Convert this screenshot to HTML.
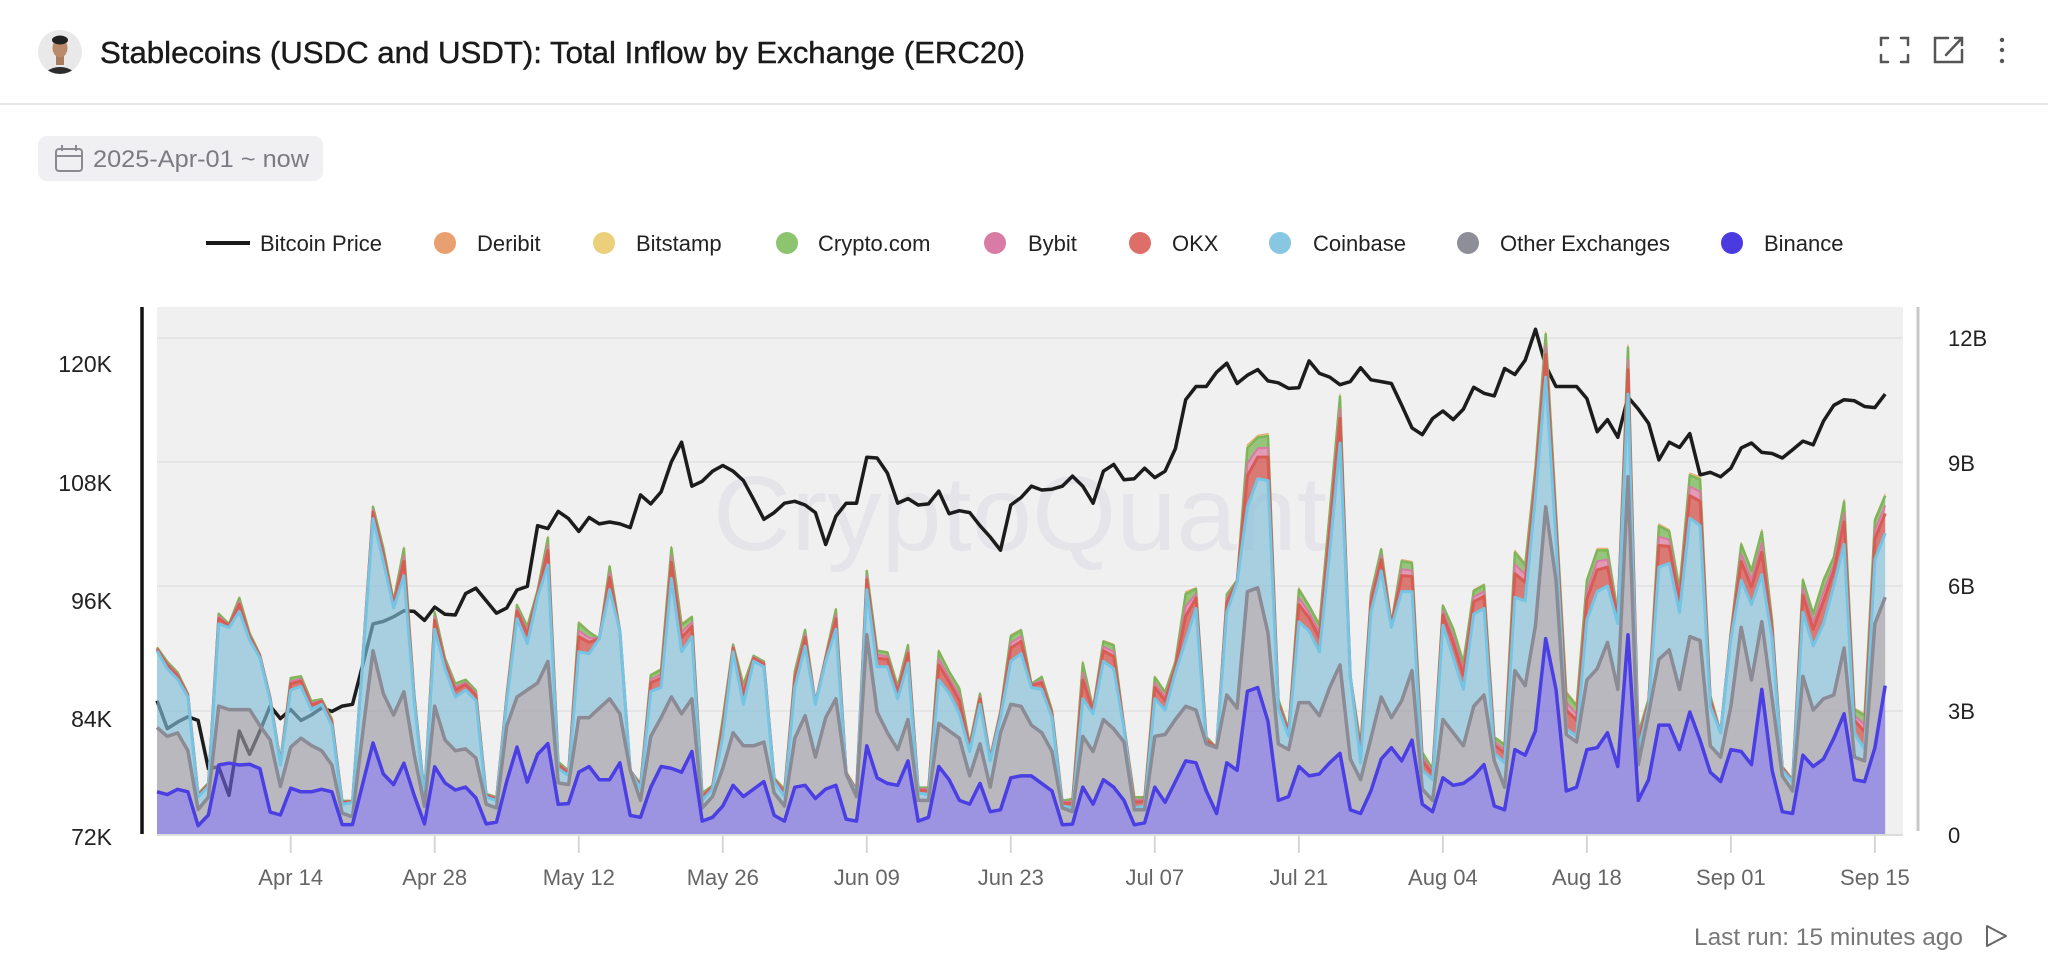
<!DOCTYPE html>
<html><head><meta charset="utf-8"><style>
html,body{margin:0;padding:0;background:#fff;width:2048px;height:972px;overflow:hidden}
svg{display:block}
text{font-family:"Liberation Sans",Arial,sans-serif}
</style></head><body>
<svg id="s" xmlns="http://www.w3.org/2000/svg" width="2048" height="972" viewBox="0 0 2048 972">
<rect width="2048" height="972" fill="#fff"/>
<defs><clipPath id="av"><circle cx="60" cy="52" r="22"/></clipPath></defs>
<g clip-path="url(#av)">
<rect x="36" y="28" width="48" height="48" fill="#e9e9e9"/>
<ellipse cx="60" cy="82" rx="19" ry="15" fill="#2c2c2e"/>
<rect x="56" y="55" width="8" height="10" fill="#a87c5e"/>
<ellipse cx="60" cy="48" rx="7.5" ry="9.5" fill="#b98b6b"/>
<ellipse cx="60" cy="40" rx="8" ry="4.5" fill="#222"/>
</g>
<text x="100" y="63" font-size="31" fill="#1a1a1a" stroke="#1a1a1a" stroke-width="0.45" textLength="925" lengthAdjust="spacingAndGlyphs">Stablecoins (USDC and USDT): Total Inflow by Exchange (ERC20)</text>
<g stroke="#555" stroke-width="2.5" fill="none" stroke-linecap="round">
<path d="M1881,45 V38 H1888 M1901,38 H1908 V45 M1908,55 V62 H1901 M1888,62 H1881 V55"/>
<path d="M1948,38 H1935 V62 H1962 V50 M1946,55 L1962,38 M1955,38 H1962 V45"/>
</g>
<g fill="#555"><circle cx="2002" cy="40" r="2.2"/><circle cx="2002" cy="50" r="2.2"/><circle cx="2002" cy="61" r="2.2"/></g>
<rect x="0" y="103" width="2048" height="2" fill="#e6e6e6"/>
<rect x="38" y="136" width="285" height="45" rx="9" fill="#f0f0f3"/>
<g stroke="#8a8a90" stroke-width="2" fill="none"><rect x="56" y="149" width="26" height="22" rx="3"/><path d="M56,156 H82 M62,145 V151 M76,145 V151"/></g>
<text x="93" y="167" font-size="24" fill="#7b7b82" textLength="216" lengthAdjust="spacingAndGlyphs">2025-Apr-01 ~ now</text>
<g font-size="22" fill="#222">
<line x1="206" y1="243" x2="250" y2="243" stroke="#1a1a1a" stroke-width="4"/>
<text x="260" y="251" textLength="122" lengthAdjust="spacingAndGlyphs">Bitcoin Price</text>
<circle cx="445" cy="243" r="11" fill="#e9a070"/><text x="477" y="251">Deribit</text>
<circle cx="604" cy="243" r="11" fill="#ebcf7a"/><text x="636" y="251">Bitstamp</text>
<circle cx="787" cy="243" r="11" fill="#8cc470"/><text x="818" y="251">Crypto.com</text>
<circle cx="995" cy="243" r="11" fill="#d87ca6"/><text x="1028" y="251">Bybit</text>
<circle cx="1140" cy="243" r="11" fill="#dd6e68"/><text x="1172" y="251">OKX</text>
<circle cx="1280" cy="243" r="11" fill="#87c7e2"/><text x="1313" y="251">Coinbase</text>
<circle cx="1468" cy="243" r="11" fill="#8e8e98"/><text x="1500" y="251">Other Exchanges</text>
<circle cx="1732" cy="243" r="11" fill="#4a3be0"/><text x="1764" y="251">Binance</text>
</g>
<rect x="157" y="307" width="1746" height="527" fill="#f0f0f0"/>
<g stroke="#e5e5e5" stroke-width="2"><line x1="157" y1="338" x2="1903" y2="338"/><line x1="157" y1="462" x2="1903" y2="462"/><line x1="157" y1="586" x2="1903" y2="586"/><line x1="157" y1="711" x2="1903" y2="711"/></g>
<text x="713" y="550" font-size="106" fill="#e5e5e9" textLength="614" lengthAdjust="spacingAndGlyphs">CryptoQuant</text>
<g id="chart"></g>
<line x1="157" y1="835" x2="1903" y2="835" stroke="#dcdcdc" stroke-width="2"/>
<line x1="142" y1="307" x2="142" y2="834" stroke="#111" stroke-width="3.5"/>
<line x1="1918" y1="307" x2="1918" y2="831" stroke="#c8c8c8" stroke-width="3"/>
<g font-size="23" fill="#222" text-anchor="end">
<text x="112" y="372">120K</text><text x="112" y="491">108K</text><text x="112" y="609">96K</text><text x="112" y="727">84K</text><text x="112" y="845">72K</text>
</g>
<g font-size="22" fill="#222">
<text x="1948" y="346">12B</text><text x="1948" y="471">9B</text><text x="1948" y="594">6B</text><text x="1948" y="719">3B</text><text x="1948" y="843">0</text>
</g>
<g id="xt" font-size="22" fill="#666" text-anchor="middle"></g>
<text x="1963" y="945" font-size="24" fill="#777" text-anchor="end" textLength="269" lengthAdjust="spacingAndGlyphs">Last run: 15 minutes ago</text>
<path d="M1987,926 L2006,936 L1987,946 Z" stroke="#666" stroke-width="2" fill="none" stroke-linejoin="round"/>
</svg>
<script>
(function(){
const A=a=>a.map(z=>290+z/2.8), B=a=>a.map(z=>300+z/2.658);
const btc=[...A([1150,1228,1210,1195,1205,1340,1335,1415,1235,1300,1235,1165,1200,1175,1205,1190,1170,1180,1165,1160,1050,935,928,915,898,900,925,888,908,910,850,835,870,905,890,840,830,660,668,620,640]),
...B([615,578,595,590,595,605,518,542,510,430,378,495,482,455,440,455,480,530,583,565,540,535,545,565,650,575,540,540,418,420,460,540,528,545,542,508,568,560,565,600,630,665,545,525]),
...B([495,505,503,495,468,495,540,455,437,478,475,447,472,455,395,265,230,230,192,168,222,200,185,215,220,235,233,162,195,205,225,217,180,212,217,222,280,340,358,315,295,318,290]),
...B([232,248,255,182,198,160,78,175,230,230,230,262,350,318,365,258,290,328,425,378,392,355,465,458,470,447,393,380,405,408,420,398,375,385,322,280,265,268,283,286,250])];
const bin=[...A([1405,1413,1398,1405,1500,1470,1330,1325,1330,1328,1340,1462,1470,1395,1405,1405,1398,1405,1497,1497,1383,1268,1355,1385,1325,1415,1495,1335,1380,1400,1392,1422,1495,1490,1375,1280,1378,1300,1270,1440,1438]),
...B([1255,1240,1275,1275,1230,1370,1375,1295,1240,1245,1255,1200,1385,1375,1345,1290,1320,1300,1280,1370,1385,1295,1290,1325,1300,1290,1380,1385,1185,1270,1285,1290,1225,1385,1375,1240,1275,1330,1340,1285,1360,1355,1270,1265]),
...B([1265,1285,1305,1395,1393,1295,1340,1275,1295,1330,1395,1390,1295,1335,1280,1225,1230,1305,1365,1230,1250,1040,1030,1120,1330,1320,1240,1265,1260,1230,1205,1355,1365,1305,1220,1190,1225,1170,1340,1360,1270,1290,1285]),
...B([1265,1235,1345,1355,1195,1210,1145,900,1035,1305,1295,1195,1190,1150,1240,890,1330,1275,1130,1130,1195,1095,1170,1255,1280,1195,1200,1235,1035,1250,1360,1365,1210,1240,1220,1165,1100,1275,1280,1190,1025])];
const oth=[...A([1225,1250,1240,1290,1455,1420,1165,1175,1175,1175,1220,1260,1390,1280,1255,1275,1290,1330,1465,1475,1240,1010,1130,1190,1125,1300,1445,1165,1260,1290,1285,1310,1440,1450,1220,1140,1120,1100,1040,1380,1385]),
...B([1110,1110,1085,1060,1100,1250,1330,1160,1110,1055,1100,1060,1350,1320,1245,1150,1185,1185,1175,1310,1345,1165,1105,1215,1110,1060,1260,1320,890,1095,1150,1195,1115,1330,1330,1125,1145,1165,1265,1180,1295,1150,1075,1080]),
...B([1130,1150,1200,1350,1360,1160,1200,1115,1140,1175,1355,1355,1160,1155,1115,1080,1090,1180,1190,1050,1085,775,765,885,1180,1195,1070,1070,1105,1030,970,1220,1275,1165,1055,1110,1065,985,1300,1330,1115,1150,1185]),
...B([1080,1050,1225,1295,985,1025,865,550,745,1155,1175,1010,980,910,1035,470,1235,1100,955,930,1035,895,905,1185,1215,1080,870,1010,855,1060,1265,1305,1000,1090,1060,1050,925,1215,1225,860,790])];
const cb=[...A([1010,1060,1090,1140,1420,1390,935,945,900,980,1030,1150,1330,1120,1110,1175,1160,1220,1440,1435,1040,640,760,890,800,1150,1425,950,1060,1140,1120,1150,1420,1430,1150,920,990,860,770,1340,1360]),
...B([935,940,900,770,880,1270,1300,1040,1030,740,935,895,1330,1300,1160,935,1075,960,975,1280,1320,1030,920,1075,960,875,1270,1310,770,975,975,1060,965,1310,1315,1010,1045,1100,1200,1075,1225,1110,960,940]),
...B([1030,1035,1110,1345,1350,1060,1100,960,980,1140,1350,1345,1060,1090,990,905,820,1180,1225,830,750,550,475,480,1085,1160,855,880,935,670,380,1000,1230,830,720,870,775,775,1250,1275,865,950,1035]),
...B([835,820,1205,1230,790,800,520,205,640,1140,1160,850,775,760,860,250,1200,1080,710,700,830,580,600,1080,1150,900,745,810,730,900,1250,1280,830,920,860,760,650,1150,1195,690,620])];
const tot=[...A([1000,1040,1070,1130,1410,1380,905,935,860,960,1020,1140,1320,1085,1080,1150,1145,1200,1430,1430,1030,605,720,870,720,1130,1415,900,1030,1100,1090,1120,1410,1420,1130,880,940,840,690,1320,1345]),
...B([855,880,915,705,880,1255,1285,995,980,655,860,840,1310,1290,1110,915,1020,945,960,1270,1300,985,875,1070,945,820,1255,1300,718,930,935,1025,915,1295,1295,930,985,1030,1180,1045,1215,1090,890,875]),
...B([1020,1000,1090,1330,1325,960,1085,905,915,1130,1320,1320,1000,1040,960,775,765,1160,1210,780,745,385,360,355,1060,1140,765,810,860,560,250,1010,1180,780,660,860,690,695,1200,1245,810,870,960]),
...B([770,755,1160,1180,665,700,440,85,560,1040,1075,740,660,660,830,120,1150,1060,595,610,765,460,470,1050,1150,880,645,715,610,850,1240,1275,740,830,740,680,530,1085,1100,580,515])];
const N=btc.length;
const base=new Array(N).fill(834);
for(let i=0;i<N;i++){oth[i]=Math.min(oth[i],bin[i]);cb[i]=Math.min(cb[i],oth[i]);tot[i]=Math.min(tot[i],cb[i]);}
const okx=[],byb=[],cro=[],bst=[];
for(let i=0;i<N;i++){const g=cb[i]-tot[i];okx[i]=cb[i]-0.5*g;byb[i]=cb[i]-0.7*g;cro[i]=cb[i]-0.95*g;bst[i]=cb[i]-0.98*g;}
const X=i=>(157+i*10.287).toFixed(1);
const line=a=>'M'+a.map((y,i)=>X(i)+','+y.toFixed(1)).join('L');
function band(lo,hi){let s=line(hi);for(let i=N-1;i>=0;i--)s+='L'+X(i)+','+lo[i].toFixed(1);return s+'Z';}
const ns='http://www.w3.org/2000/svg';const g=document.getElementById('chart');
function P(d,attrs){const p=document.createElementNS(ns,'path');p.setAttribute('d',d);for(const k in attrs)p.setAttribute(k,attrs[k]);g.appendChild(p);}
P(line(btc),{fill:'none',stroke:'#1c1c1c','stroke-width':3.5,'stroke-linejoin':'round'});
const layers=[[base,bin,'#7062d9'],[bin,oth,'#9b9aa5'],[oth,cb,'#81bdd7'],[cb,okx,'#cd3a31'],[okx,byb,'#db6c95'],[byb,cro,'#64ac3b'],[cro,bst,'#e9bf3b'],[bst,tot,'#e5752b']];
layers.forEach(l=>P(band(l[0],l[1]),{fill:l[2],'fill-opacity':0.65,stroke:'none'}));
const lines=[[tot,'#e9a070',1.2],[bst,'#ebcf7a',1.2],[cro,'#7fb55a',2.5],[byb,'#d87aa5',2],[okx,'#d95b55',3],[cb,'#74c4e4',3],[oth,'#8b8b95',3.5],[bin,'#4b3fe3',3.5]];
lines.forEach(l=>P(line(l[0]),{fill:'none',stroke:l[1],'stroke-width':l[2],'stroke-linejoin':'round'}));
const xt=document.getElementById('xt');
const labs=[[13,'Apr 14'],[27,'Apr 28'],[41,'May 12'],[55,'May 26'],[69,'Jun 09'],[83,'Jun 23'],[97,'Jul 07'],[111,'Jul 21'],[125,'Aug 04'],[139,'Aug 18'],[153,'Sep 01'],[167,'Sep 15']];
labs.forEach(([i,t])=>{const x=X(i);const ln=document.createElementNS(ns,'line');ln.setAttribute('x1',x);ln.setAttribute('x2',x);ln.setAttribute('y1',836);ln.setAttribute('y2',853);ln.setAttribute('stroke','#d6d6d6');ln.setAttribute('stroke-width',2);xt.appendChild(ln);const tx=document.createElementNS(ns,'text');tx.setAttribute('x',x);tx.setAttribute('y',885);tx.textContent=t;xt.appendChild(tx);});
})();
</script>
</body></html>
